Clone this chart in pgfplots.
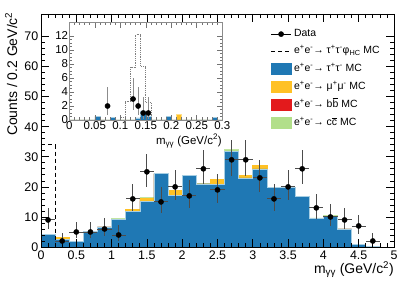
\documentclass[border=0pt]{standalone}
\usepackage{fontspec}
\setmainfont{Liberation Sans}
\usepackage{pgfplots}
\pgfplotsset{compat=1.18}
\usepackage{pgfplotstable}

\definecolor{tauBlue}{HTML}{1F78B4}
\definecolor{tauEdge}{HTML}{A6CEE3}
\definecolor{muYellow}{HTML}{FFC125}
\definecolor{muEdge}{HTML}{FFE08A}
\definecolor{bbRed}{HTML}{E31A1C}
\definecolor{ccGreen}{HTML}{B2DF8A}

% main MC stack, bin left edges (width 0.2)
\pgfplotstableread{
x    blue  yellow red green
0.0  4.2   0      0   0
0.2  2.5   0.6    0   0
0.4  1.9   0      0   0
0.6  5.2   0      0   0
0.8  6.7   0      0   0
1.0  9.2   0      0   0.2
1.2  11.9  0.6    0   0
1.4  15.2  1.0    0   0.3
1.6  24.4  0      0   0
1.8  17.1  1.8    0   0
2.0  23.8  0      0   0
2.2  21.0  0      0   0.2
2.4  20.9  1.6    0   0
2.6  31.7  0      0   0.7
2.8  23.0  0.9    0   0
3.0  26.0  1.2    0   0
3.2  19.8  0      0   0
3.4  19.8  0      0   0
3.6  16.9  0      0   0
3.8  9.4   0      0   0.3
4.0  10.3  0      0   0.2
4.2  6.0   0      0   0
4.4  0.9   0      0   0
4.6  0.1   0      0   0
4.8  0     0      0   0
5.0  0     0      0   0
}\mctab

% data (bin centres), Poisson errors
\pgfplotstableread{
x    y   ex   ep    em
0.1  9   0.1  4.12  2.94
0.3  2   0.1  2.66  1.29
0.5  5   0.1  3.40  2.15
0.7  5   0.1  3.40  2.15
0.9  6   0.1  3.60  2.38
1.1  4   0.1  3.18  1.91
1.3  16  0.1  5.09  3.95
1.5  25  0.1  6.07  4.96
1.7  15  0.1  4.97  3.83
1.9  20  0.1  5.56  4.43
2.1  17  0.1  5.21  4.08
2.3  26  0.1  6.17  5.06
2.5  19  0.1  5.44  4.32
2.7  29  0.1  6.45  5.35
2.9  29  0.1  6.45  5.35
3.1  23  0.1  5.87  4.76
3.3  16  0.1  5.09  3.95
3.5  20  0.1  5.56  4.43
3.7  26  0.1  6.17  5.06
3.9  13  0.1  4.71  3.55
4.1  10  0.1  4.28  3.10
4.3  9   0.1  4.12  2.94
4.5  7   0.1  3.78  2.58
4.7  2   0.1  2.66  1.29
}\datatab

\pgfplotstableread{
x      y  ep    em
0.075  2  2.66  1.29
0.125  3  2.94  1.63
0.135  2  2.66  1.29
0.145  1  2.30  0.83
0.155  1  2.30  0.83
}\insetdata

\begin{document}
\begin{tikzpicture}
\useasboundingbox (0,0) rectangle (415bp,281bp);

\begin{axis}[
  at={(41bp,34bp)}, anchor=south west, scale only axis,
  width=353bp, height=233bp,
  xmin=0, xmax=5, ymin=0, ymax=77.5,
  xtick={0,0.5,...,5}, minor x tick num=4,
  ytick={0,10,...,70}, minor y tick num=4,
  tick align=inside, axis on top,
  major tick length=8bp, minor tick length=4bp,
  tick style={black, line width=0.7bp},
  axis line style={line width=0.8bp},
  /pgf/number format/assume math mode=true,
  ticklabel style={font=\fontsize{12.5}{14}\selectfont},
  xticklabel style={inner ysep=4bp},
  yticklabel style={inner xsep=2.5bp},
  legend style={at={(0.650,0.937)}, anchor=north west, draw=none, fill=none,
    inner sep=0pt, row sep=6.5bp, font=\fontsize{10.5}{12}\selectfont,
    nodes={inner ysep=0pt, inner xsep=2.5bp, text height=8bp, text depth=2.5bp}},
  legend cell align=left,
]
% stacked MC (cumulative, drawn from top component down)
\addplot[const plot, fill=ccGreen, draw=ccGreen!80!white, line width=0.6bp, forget plot]
  table[x=x, y expr=\thisrow{blue}+\thisrow{yellow}+\thisrow{red}+\thisrow{green}] {\mctab} \closedcycle;
\addplot[const plot, fill=bbRed, draw=bbRed, line width=0.6bp, forget plot]
  table[x=x, y expr=\thisrow{blue}+\thisrow{yellow}+\thisrow{red}] {\mctab} \closedcycle;
\addplot[const plot, fill=muYellow, draw=muYellow, line width=0.6bp, forget plot]
  table[x=x, y expr=\thisrow{blue}+\thisrow{yellow}] {\mctab} \closedcycle;
\addplot[const plot, fill=tauBlue, draw=tauEdge, line width=0.6bp, forget plot]
  table[x=x, y=blue] {\mctab} \closedcycle;
% signal
\addplot[const plot, black, dashed, dash pattern=on 4bp off 3bp, line width=0.9bp, forget plot]
  coordinates {(0,34) (0.2,0) (5,0)};
% data
\addplot[only marks, mark=*, mark size=2.6bp, black, forget plot,
  error bars/.cd, x dir=both, x explicit, y dir=both, y explicit,
  error mark=none, error bar style={line width=0.9bp, black!70}]
  table[x=x, y=y, x error=ex, y error plus=ep, y error minus=em] {\datatab};

\addlegendimage{legend image code/.code={\draw[black, line width=0.9bp] (0bp,0bp)--(20bp,0bp); \fill[black] (10bp,0bp) circle (2.6bp);}}
\addlegendentry{Data}
\addlegendimage{legend image code/.code={\draw[black, line width=0.9bp, dash pattern=on 4bp off 3bp] (0bp,0bp)--(20bp,0bp);}}
\addlegendentry{e\textsuperscript{+}e\textsuperscript{-}→ τ\textsuperscript{+}τ\textsuperscript{-}φ\textsubscript{HC} MC}
\addlegendimage{legend image code/.code={\fill[tauBlue] (0bp,-5.5bp) rectangle (20bp,5.5bp);}}
\addlegendentry{e\textsuperscript{+}e\textsuperscript{-}→ τ\textsuperscript{+}τ\textsuperscript{-} MC}
\addlegendimage{legend image code/.code={\fill[muYellow] (0bp,-5.5bp) rectangle (20bp,5.5bp);}}
\addlegendentry{e\textsuperscript{+}e\textsuperscript{-}→ μ\textsuperscript{+}μ\textsuperscript{-} MC}
\addlegendimage{legend image code/.code={\fill[bbRed] (0bp,-5.5bp) rectangle (20bp,5.5bp);}}
\addlegendentry{e\textsuperscript{+}e\textsuperscript{-}→ b$\overline{\hbox{b}}$ MC}
\addlegendimage{legend image code/.code={\fill[ccGreen] (0bp,-5.5bp) rectangle (20bp,5.5bp);}}
\addlegendentry{e\textsuperscript{+}e\textsuperscript{-}→ c$\overline{\hbox{c}}$ MC}
\end{axis}

\node[rotate=90, anchor=base east, inner sep=0pt, font=\fontsize{14}{16}\selectfont] at (17bp,269bp) {Counts / 0.2 GeV/c\textsuperscript{2}};
\node[anchor=base east, inner sep=0pt, font=\fontsize{14}{16}\selectfont] at (394bp,7.6bp) {m\textsubscript{γγ} (GeV/c\textsuperscript{2})};

% inset
\begin{axis}[
  at={(69.3bp,161bp)}, anchor=south west, scale only axis,
  width=153bp, height=97.3bp,
  xmin=0, xmax=0.3, ymin=0, ymax=13.9,
  xtick={0,0.05,0.1,0.15,0.2,0.25,0.3}, minor x tick num=4,
  ytick={0,2,...,12}, minor y tick num=3,
  tick align=inside, axis on top,
  major tick length=5bp, minor tick length=2.5bp,
  tick style={black!55, line width=0.6bp},
  axis line style={black!45, line width=0.8bp},
  axis background/.style={fill=white},
  /pgf/number format/assume math mode=true,
  xticklabel style={/pgf/number format/fixed, inner ysep=1.5bp},
  yticklabel style={inner xsep=1bp},
  ticklabel style={font=\fontsize{11.5}{13}\selectfont},
]
\addplot[const plot, fill=muYellow, draw=muEdge, line width=0.5bp]
  coordinates {(0,0) (0.21,0.8) (0.22,0) (0.3,0)} \closedcycle;
\addplot[const plot, fill=tauBlue, draw=tauEdge, line width=0.5bp]
  coordinates {(0,0) (0.05,0.5) (0.06,0) (0.08,0.4) (0.09,0) (0.13,0.3) (0.14,1.3) (0.15,0.5) (0.16,0) (0.19,0.5) (0.20,0) (0.28,0.4) (0.29,0) (0.3,0)} \closedcycle;
\addplot[const plot, black!50, densely dotted, line width=0.8bp]
  coordinates {(0,0) (0.10,0.3) (0.11,2.6) (0.12,7.5) (0.13,12.2) (0.14,7.7) (0.15,2.5) (0.16,0) (0.3,0)};
\addplot[only marks, mark=*, mark size=2.6bp, black,
  error bars/.cd, y dir=both, y explicit,
  error mark=none, error bar style={line width=0.9bp, black!45}]
  table[x=x, y=y, y error plus=ep, y error minus=em] {\insetdata};
\end{axis}
\node[anchor=base east, inner sep=0pt, font=\fontsize{11.5}{13}\selectfont] at (222bp,136.7bp) {m\textsubscript{γγ} (GeV/c\textsuperscript{2})};
\end{tikzpicture}
\end{document}
